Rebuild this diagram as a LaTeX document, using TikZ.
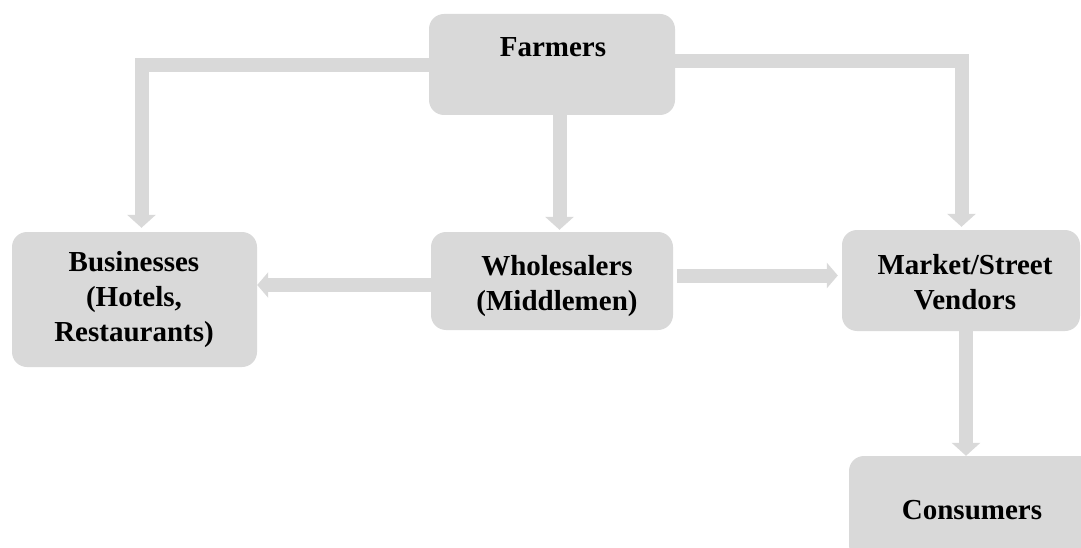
\documentclass[tikz,border=0pt]{standalone}
\usepackage{fontspec}
\setmainfont{Liberation Serif}
\usetikzlibrary{arrows.meta}
\definecolor{boxgray}{HTML}{D9D9D9}
\tikzset{
  box/.style={fill=boxgray, draw=none, rounded corners=15pt, inner sep=0pt},
  lbl/.style={inner sep=0pt, align=center, text=black, font=\fontsize{29}{35}\selectfont\bfseries},
  arr/.style={draw=boxgray, line width=14pt, line join=miter,
    -{Triangle[width=28pt,length=13pt]}},
  harr/.style={draw=boxgray, line width=14pt, line join=miter,
    -{Triangle[width=25pt,length=11pt]}}
}
\begin{document}
\begin{tikzpicture}[x=1pt,y=-1pt]
\useasboundingbox (0,0) rectangle (1081,548);
\clip (0,0) rectangle (1081,548);
% boxes
\node[box, minimum width=246pt, minimum height=101pt] (farmers) at (552,64.5) {};
\node[box, minimum width=245pt, minimum height=135pt] (businesses) at (134.5,299.5) {};
\node[box, minimum width=242pt, minimum height=98pt] (wholesalers) at (552,281) {};
\node[box, minimum width=238pt, minimum height=101pt] (market) at (961,280.5) {};
\node[box, minimum width=246pt, minimum height=104pt] (consumers) at (972,508) {};
% labels
\node[lbl] (farmersT) at (553,47) {Farmers};
\node[lbl] (businessesT) at (134,300) {Businesses\\(Hotels,\\Restaurants)};
\node[lbl] (wholesalersT) at (557,286) {Wholesalers\\(Middlemen)};
\node[lbl] (marketT) at (965,282) {Market/Street\\Vendors};
\node[lbl] (consumersT) at (972,510) {Consumers};
% corner coordinates
\coordinate (lc) at (141.5,65);
\coordinate (rc) at (961.5,61.5);
\coordinate (mc) at (559.5,0);
\coordinate (hl) at (0,285);
\coordinate (hr) at (0,275.5);
\coordinate (vc) at (966,0);
% connectors
\draw[arr, shorten >=4pt] (farmers.west |- lc) -- (lc) -- (lc |- businesses.north);
\draw[arr, shorten >=3pt] (farmers.east |- rc) -- (rc) -- (rc |- market.north);
\draw[arr, shorten >=2pt] (mc |- farmers.south) -- (mc |- wholesalers.north);
\draw[harr] (wholesalers.west |- hl) -- (businesses.east |- hl);
\draw[harr, shorten <=4pt, shorten >=4pt] (wholesalers.east |- hr) -- (market.west |- hr);
\draw[arr] (vc |- market.south) -- (vc |- consumers.north);
\end{tikzpicture}
\end{document}
